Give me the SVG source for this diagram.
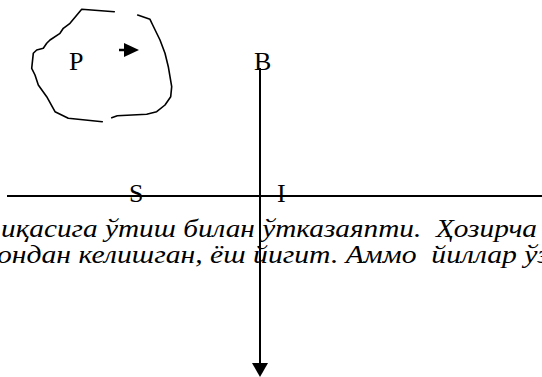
<svg xmlns="http://www.w3.org/2000/svg" width="542" height="377" viewBox="0 0 542 377">
<style>
.ln{stroke:#000;stroke-width:2;fill:none}
.blob{stroke:#000;stroke-width:1.6;fill:none;stroke-linejoin:round;stroke-linecap:round}
.lbl{font-size:26px;fill:#000}
.txt{font-style:italic;font-size:25px;fill:#000;white-space:pre}
</style>
<g id="text" font-family="'Liberation Serif', 'DejaVu Serif', serif">
<text class="txt" x="1" y="237" textLength="536" lengthAdjust="spacingAndGlyphs" xml:space="preserve">иқасига ўтиш билан ўтказаяпти.  Ҳозирча</text>
<text class="txt" x="-3" y="263" textLength="552" lengthAdjust="spacingAndGlyphs" xml:space="preserve">ондан келишган, ёш йигит. Аммо  йиллар ўз</text>
</g>
<g id="node-P" font-family="'Liberation Serif', 'DejaVu Serif', serif">
<path class="blob" d="M114.3,11.7 L81.7,9.3 L70,23.3 L63.3,28.3 L60,33.3 L50,40 L46.7,43.3 L43.3,48.3 L36.7,50 L33.3,53.3 L31.7,68.3 L35,75 L38.3,85 L46.7,96.7 L55,111.7 L68.3,118.3 L102.3,121.7"/>
<path class="blob" d="M137.7,15 L150,19.3 L152.7,25 L160,40 L165,53.3 L168.3,66.7 L171.7,86.7 L170.7,96.7 L165,105 L156.7,111.7 L146.7,114.3 L117.3,115.7 L111.7,117.7"/>
<text class="lbl" x="69" y="70">P</text>
<line x1="119" y1="50" x2="125" y2="50" stroke="#000" stroke-width="2.5"/>
<path d="M124,43 L139,50 L124,57 Z" fill="#000"/>
</g>
<g id="node-B" font-family="'Liberation Serif', 'DejaVu Serif', serif"><text class="lbl" x="254" y="70">B</text></g>
<g id="node-S" font-family="'Liberation Serif', 'DejaVu Serif', serif"><text class="lbl" x="129" y="202">S</text></g>
<g id="node-I" font-family="'Liberation Serif', 'DejaVu Serif', serif"><text class="lbl" x="277" y="202">I</text></g>
<g id="connectors">
<line class="ln" x1="7" y1="196" x2="542" y2="196"/>
<line class="ln" x1="260" y1="68" x2="260" y2="364"/>
<path d="M252,363 L268,363 L260,377 Z" fill="#000"/>
</g>
</svg>
